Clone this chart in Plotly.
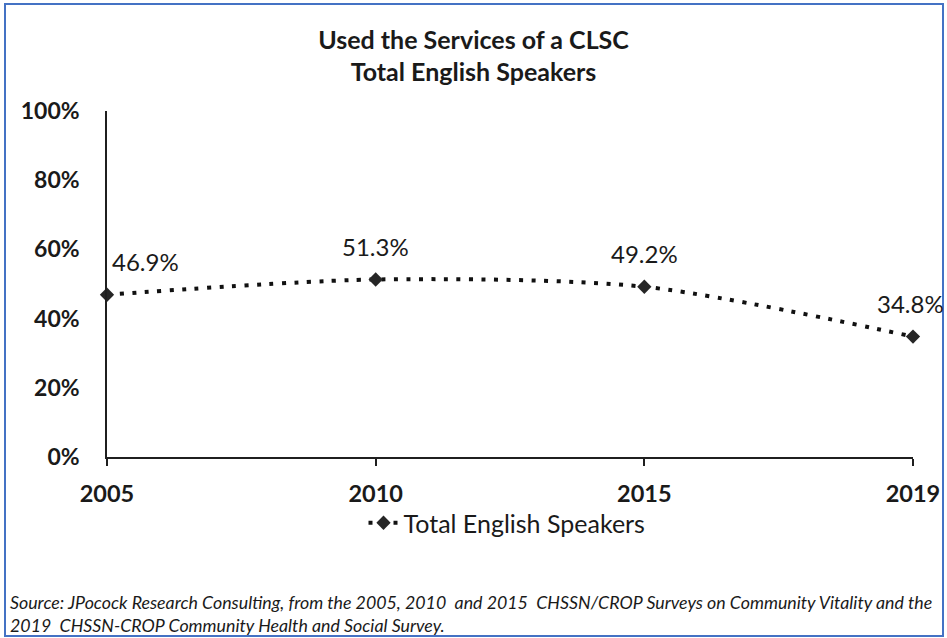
import plotly.graph_objects as go

years = ["2005", "2010", "2015", "2019"]
values = [46.9, 51.3, 49.2, 34.8]
labels = ["46.9%", "51.3%", "49.2%", "34.8%"]
y_ticks = [0, 20, 40, 60, 80, 100]
y_tick_text = ["0%", "20%", "40%", "60%", "80%", "100%"]
series_name = "Total English Speakers"
title_text = "Used the Services of a CLSC<br>Total English Speakers"
source_text = ("<i>Source: JPocock Research Consulting, from the 2005, 2010  and 2015  CHSSN/CROP Surveys on Community Vitality and the<br>"
               "2019  CHSSN-CROP Community Health and Social Survey.</i>")

W, H = 947, 638
L, R, T, B = 107, 34, 111, 181
pw, ph = W - L - R, H - T - B

def px_x(px):
    return (px - L) / pw

def px_y(py):
    return (H - B - py) / ph

FONT = "Lato"
TXT = "#1a1a1a"

fig = go.Figure()
fig.add_trace(go.Scatter(
    x=years, y=values, name=series_name, mode="lines+markers",
    line=dict(color="#111111", width=4, dash="4px,8.5px", shape="spline", smoothing=0.8),
    marker=dict(symbol="diamond", size=11, color="#262626"),
    cliponaxis=False,
))

xshifts = [38, 0, 0, -3]
for i, (v, lab, xs) in enumerate(zip(values, labels, xshifts)):
    fig.add_annotation(x=i, y=v, text=lab, showarrow=False, xref="x", yref="y",
                       yshift=33, xshift=xs, font=dict(family=FONT, size=24, color=TXT))

fig.add_annotation(x=px_x(8), y=px_y(613), xref="paper", yref="paper", text=source_text,
                   showarrow=False, xanchor="left", yanchor="middle", align="left",
                   font=dict(family=FONT, size=17.8, color=TXT))

fig.add_shape(type="rect", xref="paper", yref="paper",
              x0=px_x(5), x1=px_x(943), y0=px_y(636), y1=px_y(4),
              line=dict(color="#4472C4", width=2), fillcolor="rgba(0,0,0,0)", layer="below")

fig.update_layout(
    width=W, height=H,
    margin=dict(l=L, r=R, t=T, b=B, pad=0, autoexpand=False),
    paper_bgcolor="white", plot_bgcolor="white",
    title=dict(text=title_text, x=0.5, xref="container", xanchor="center",
               y=1 - 48.5 / H, yref="container", yanchor="middle",
               font=dict(family=FONT, size=25, color=TXT, weight="bold")),
    showlegend=True,
    legend=dict(orientation="h", x=507 / W, xref="container", xanchor="center",
                y=1 - 523 / H, yref="container", yanchor="middle",
                font=dict(family=FONT, size=25, color=TXT), bgcolor="rgba(0,0,0,0)"),
    font=dict(family=FONT, color=TXT),
)

fig.update_xaxes(type="category", showgrid=False, zeroline=False, automargin=False,
                 showline=True, linecolor="#1f1f1f", linewidth=2,
                 ticks="outside", ticklen=7, tickcolor="#1f1f1f", tickwidth=1.5,
                 ticklabelstandoff=8, range=[0, 3],
                 tickfont=dict(family=FONT, size=23.5, color=TXT, weight="bold"))
fig.update_yaxes(range=[0, 100], tickvals=y_ticks, ticktext=y_tick_text, automargin=False,
                 showgrid=False, zeroline=False, showline=True,
                 linecolor="#1f1f1f", linewidth=1.5, ticks="", ticklabelstandoff=21,
                 tickfont=dict(family=FONT, size=23, color=TXT, weight="bold"))

fig.write_html("out.html", config={"displayModeBar": False},
               post_script="document.body.style.margin='0';document.body.style.overflow='hidden';")
